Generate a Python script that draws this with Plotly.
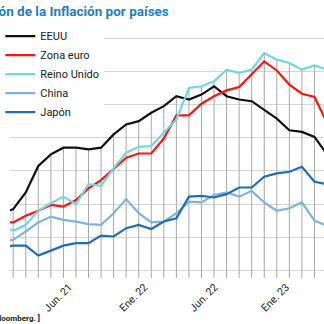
import plotly.graph_objects as go

# Monthly index: -1 = Ene 2021 ... 25 = Mar 2023
month_idx = list(range(-1, 26))

eeuu = [1.4, 1.7, 2.7, 4.3, 5.0, 5.4, 5.4, 5.3, 5.4, 6.2, 6.8, 7.0, 7.5, 7.9, 8.5, 8.3,
        8.6, 9.1, 8.5, 8.3, 8.2, 7.7, 7.15, 6.45, 6.35, 6.05, 5.0]
zona_euro = [0.9, 0.9, 1.3, 1.6, 1.95, 1.85, 2.25, 2.95, 3.45, 4.15, 4.8, 5.05, 5.05, 5.95,
             7.35, 7.35, 8.05, 8.5, 8.85, 9.05, 9.85, 10.6, 10.05, 9.2, 8.65, 8.45, 6.9]
reino_unido = [0.7, 0.4, 0.75, 1.6, 2.05, 2.45, 2.0, 3.2, 3.1, 4.15, 5.1, 5.45, 5.5, 6.3,
               7.1, 9.0, 9.1, 9.4, 10.1, 9.9, 10.1, 11.1, 10.7, 10.5, 10.1, 10.35, 10.1]
china = [-0.3, -0.15, 0.35, 0.9, 1.25, 1.05, 0.95, 0.8, 0.75, 1.45, 2.3, 1.45, 0.9, 0.95,
         1.45, 2.15, 2.1, 2.55, 2.7, 2.45, 2.8, 2.1, 1.6, 1.75, 2.1, 1.0, 0.7]
japon = [-0.6, -0.5, -0.5, -1.1, -0.8, -0.5, -0.35, -0.35, 0.1, 0.05, 0.55, 0.75, 0.5, 0.95,
         1.15, 2.45, 2.5, 2.4, 2.6, 3.0, 3.0, 3.65, 3.85, 3.95, 4.25, 3.35, 3.2]

series_names = ["EEUU", "Zona euro", "Reino Unido", "China", "Japón"]
series_colors = ["#111111", "#ff1414", "#6fd8df", "#7fb3dc", "#1f6db3"]

tick_pos = [4.45, 10.45, 16.05, 21.75]
tick_text = ["Jun. 21", "Ene. 22", "Jun. 22", "Ene. 23"]

y_grid = [-2, 0, 2, 4, 6, 8, 10, 12]
y_range = [-2.45, 14.295]
x_range = [-0.255, 24.76]

all_series = [eeuu, zona_euro, reino_unido, china, japon]

fig = go.Figure()

# vertical drop lines from the highest series to the bottom of the axis
dx, dy = [], []
for k, m in enumerate(month_idx):
    top = max(s[k] for s in all_series)
    dx += [m, m, None]
    dy += [y_range[0], top, None]
fig.add_trace(go.Scatter(x=dx, y=dy, mode="lines", line=dict(color="#a8a8a8", width=1),
                         showlegend=False, hoverinfo="skip"))

for name, vals, col in zip(series_names, all_series, series_colors):
    fig.add_trace(go.Scatter(x=month_idx, y=vals, mode="lines", name=name,
                             line=dict(color=col, width=2.2)))

txt_font = "Roboto, Liberation Sans, sans-serif"

fig.update_layout(
    width=324, height=324,
    margin=dict(l=0, r=0, t=0, b=46),
    paper_bgcolor="white", plot_bgcolor="white",
    xaxis=dict(range=x_range, showgrid=False, zeroline=False, showline=False,
               tickmode="array", tickvals=tick_pos, ticktext=tick_text, tickangle=-45,
               ticks="", tickfont=dict(family=txt_font, size=10.5, color="#222222"),
               automargin=False),
    yaxis=dict(range=y_range, showgrid=True, gridcolor="#d6d6d6", gridwidth=1,
               tickmode="array", tickvals=y_grid, showticklabels=False, zeroline=False,
               showline=False, automargin=False),
    legend=dict(x=-10 / 324, y=0.922, xanchor="left", yanchor="top", bgcolor="white",
                font=dict(family=txt_font, size=11, color="#222222"), borderwidth=0,
                itemwidth=30),
    annotations=[
        dict(text="<b>Evolución de la Inflación por países</b>", xref="paper", yref="paper",
             x=0.512, y=0.962, xanchor="right", yanchor="middle", showarrow=False,
             font=dict(family="Roboto, sans-serif", size=13.5, color="#2a7bc0")),
        dict(text="<b>[ Fuente: Bloomberg. ]</b>", xref="paper", yref="paper",
             x=33 / 324, y=-0.144, xanchor="right", yanchor="middle", showarrow=False,
             font=dict(family=txt_font, size=8, color="#222222")),
    ],
)

fig.write_html("out.html")
